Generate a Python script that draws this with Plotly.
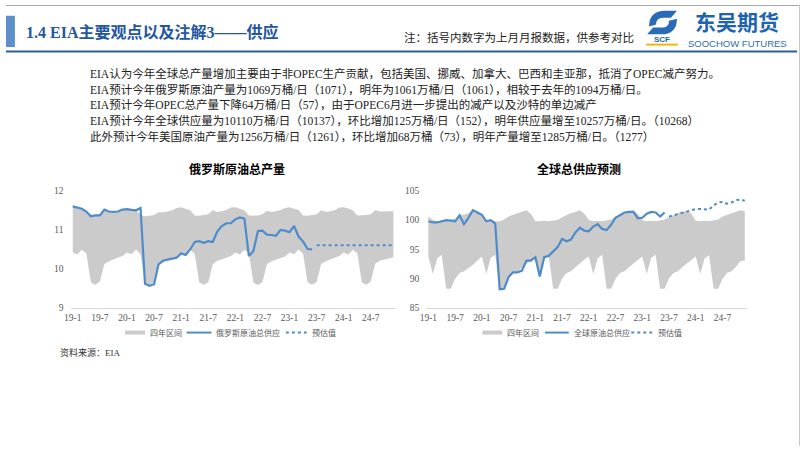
import plotly.graph_objects as go

W, H = 802, 451

# ---------------- data ----------------
tick_vals = [0, 6, 12, 18, 24, 30, 36, 42, 48, 54, 60, 66]
tick_text = ["19-1", "19-7", "20-1", "20-7", "21-1", "21-7", "22-1", "22-7", "23-1", "23-7", "24-1", "24-7"]

months_all = list(range(72))          # 2019-01 .. 2024-12
months_actual = list(range(54))       # 2019-01 .. 2023-06
months_fcst = list(range(54, 72))     # 2023-07 .. 2024-12

# Russia crude production (mb/d)
ru_low = [10.42, 10.37, 10.49, 10.40, 9.66, 9.60, 9.68, 10.13, 10.20, 10.24, 10.28, 10.33,
          10.42, 10.38, 10.50, 10.38, 9.65, 9.60, 9.67, 10.13, 10.20, 10.25, 10.28, 10.32,
          10.42, 10.38, 10.49, 10.39, 9.66, 9.60, 9.66, 10.12, 10.21, 10.25, 10.29, 10.33,
          10.42, 10.37, 10.49, 10.40, 9.65, 9.59, 9.67, 10.13, 10.20, 10.24, 10.28, 10.32,
          10.42, 10.38, 10.50, 10.39, 9.66, 9.60, 9.67, 10.13, 10.20, 10.25, 10.28, 10.33,
          10.42, 10.37, 10.49, 10.40, 9.66, 9.60, 9.68, 10.14, 10.21, 10.24, 10.28, 10.30]
ru_high = [11.60, 11.57, 11.54, 11.47, 11.36, 11.38, 11.38, 11.52, 11.47, 11.46, 11.48, 11.53,
           11.55, 11.52, 11.50, 11.38, 11.35, 11.36, 11.38, 11.45, 11.45, 11.47, 11.50, 11.56,
           11.58, 11.54, 11.50, 11.37, 11.36, 11.38, 11.40, 11.50, 11.46, 11.48, 11.51, 11.57,
           11.58, 11.54, 11.50, 11.37, 11.36, 11.37, 11.40, 11.49, 11.46, 11.48, 11.51, 11.56,
           11.58, 11.54, 11.51, 11.37, 11.36, 11.38, 11.40, 11.50, 11.46, 11.48, 11.50, 11.57,
           11.58, 11.55, 11.50, 11.37, 11.37, 11.38, 11.40, 11.51, 11.47, 11.47, 11.48, 11.48]
ru_actual = [11.60, 11.57, 11.54, 11.47, 11.35, 11.37, 11.37, 11.52, 11.47, 11.46, 11.47, 11.52,
             11.53, 11.51, 11.50, 11.56, 9.62, 9.57, 9.61, 10.12, 10.21, 10.24, 10.26, 10.29,
             10.40, 10.36, 10.50, 10.69, 10.71, 10.67, 10.71, 10.69, 10.96, 11.10, 11.17, 11.17,
             11.27, 11.32, 11.29, 10.33, 10.46, 10.97, 10.98, 10.88, 10.87, 10.85, 11.00, 10.98,
             10.94, 11.10, 10.83, 10.70, 10.51, 10.50]
ru_fcst = [10.61, 10.61, 10.61, 10.61, 10.61, 10.61, 10.61, 10.61, 10.61,
           10.61, 10.61, 10.61, 10.61, 10.61, 10.61, 10.61, 10.61, 10.61]

# Global supply (mb/d)
gl_low = [93.8, 90.8, 93.5, 94.1, 88.3, 88.3, 90.0, 91.0, 91.3, 91.8, 92.4, 93.1,
          93.8, 90.8, 93.6, 94.1, 88.3, 88.3, 90.1, 91.0, 91.3, 91.9, 92.6, 93.2,
          93.8, 90.7, 93.6, 94.0, 88.3, 88.3, 90.0, 91.0, 91.3, 92.0, 92.6, 93.3,
          93.8, 90.8, 93.5, 94.1, 88.3, 88.3, 90.0, 91.0, 91.3, 92.0, 92.6, 93.2,
          93.8, 90.8, 93.6, 94.1, 88.3, 88.3, 90.1, 91.0, 91.3, 92.0, 92.6, 93.3,
          93.8, 90.8, 93.5, 94.0, 88.3, 88.3, 90.0, 91.0, 91.3, 92.0, 93.0, 93.1]
gl_high = [100.6, 100.0, 99.8, 99.9, 100.0, 100.1, 100.2, 100.9, 100.9, 101.2, 101.7, 101.3,
           100.9, 100.0, 100.0, 99.8, 99.8, 100.1, 100.6, 100.9, 101.2, 101.4, 101.7, 101.1,
           99.8, 99.8, 99.9, 99.8, 99.9, 100.0, 100.5, 100.9, 101.2, 101.4, 101.7, 101.1,
           100.0, 99.8, 99.9, 99.8, 99.9, 100.1, 100.6, 100.9, 101.2, 101.4, 101.7, 101.1,
           100.0, 99.8, 99.9, 99.8, 99.9, 100.1, 100.5, 100.9, 101.2, 101.4, 101.6, 101.1,
           99.9, 99.8, 99.9, 99.8, 99.9, 100.1, 100.6, 100.9, 101.2, 101.4, 101.7, 101.5]
gl_actual = [99.8, 99.6, 99.6, 99.8, 100.0, 99.9, 99.8, 100.8, 99.3, 100.4, 101.7, 101.3,
             100.9, 99.8, 100.0, 99.4, 88.2, 88.3, 90.3, 91.1, 91.1, 91.4, 93.1, 93.1,
             93.7, 90.4, 93.7, 93.9, 94.7, 95.4, 96.8, 96.4, 96.7, 97.9, 98.7, 98.2,
             98.1, 98.9, 99.3, 98.5, 98.3, 99.2, 100.4, 100.9, 101.3, 101.4, 101.4, 100.3,
             100.4, 101.1, 101.4, 101.3, 100.6, 101.3]
gl_fcst = [100.6, 100.8, 101.0, 101.3, 101.5, 101.6, 101.9, 101.9, 101.9,
           101.8, 102.5, 103.0, 103.1, 102.8, 103.0, 103.4, 103.5, 103.3]

legend_left = ["四年区间", "俄罗斯原油总供应", "预估值"]
legend_right = ["四年区间", "全球原油总供应", "预估值"]

texts = [
    "EIA认为今年全球总产量增加主要由于非OPEC生产贡献，包括美国、挪威、加拿大、巴西和圭亚那，抵消了OPEC减产努力。",
    "EIA预计今年俄罗斯原油产量为1069万桶/日（1071），明年为1061万桶/日（1061），相较于去年的1094万桶/日。",
    "EIA预计今年OPEC总产量下降64万桶/日（57），由于OPEC6月进一步提出的减产以及沙特的单边减产",
    "EIA预计今年全球供应量为10110万桶/日（10137），环比增加125万桶/日（152），明年供应量增至10257万桶/日。（10268）",
    "此外预计今年美国原油产量为1256万桶/日（1261），环比增加68万桶（73），明年产量增至1285万桶/日。（1277）",
]

# ---------------- styling ----------------
BLUE = "#4F8BC9"
GRAY = "#CBCBCB"
SERIF = "Liberation Serif, Noto Sans CJK SC"
SANS = "Noto Sans CJK SC, Liberation Sans"


def px(x):
    return x / W


def py(y):
    return 1 - y / H


fig = go.Figure()

# left chart
fig.add_trace(go.Scatter(x=months_all, y=ru_low, mode="lines", line=dict(width=0, color=GRAY),
                         showlegend=False, hoverinfo="skip", xaxis="x", yaxis="y"))
fig.add_trace(go.Scatter(x=months_all, y=ru_high, mode="lines", line=dict(width=0, color=GRAY),
                         fill="tonexty", fillcolor=GRAY, name=legend_left[0], showlegend=False,
                         xaxis="x", yaxis="y"))
fig.add_trace(go.Scatter(x=months_actual, y=ru_actual, mode="lines", line=dict(color=BLUE, width=2.2),
                         name=legend_left[1], showlegend=False, xaxis="x", yaxis="y"))
fig.add_trace(go.Scatter(x=months_fcst, y=ru_fcst, mode="lines", line=dict(color=BLUE, width=2, dash="dot"),
                         name=legend_left[2], showlegend=False, xaxis="x", yaxis="y"))

# right chart
fig.add_trace(go.Scatter(x=months_all, y=gl_low, mode="lines", line=dict(width=0, color=GRAY),
                         showlegend=False, hoverinfo="skip", xaxis="x2", yaxis="y2"))
fig.add_trace(go.Scatter(x=months_all, y=gl_high, mode="lines", line=dict(width=0, color=GRAY),
                         fill="tonexty", fillcolor=GRAY, name=legend_right[0], showlegend=False,
                         xaxis="x2", yaxis="y2"))
fig.add_trace(go.Scatter(x=months_actual, y=gl_actual, mode="lines", line=dict(color=BLUE, width=2.2),
                         name=legend_right[1], showlegend=False, xaxis="x2", yaxis="y2"))
fig.add_trace(go.Scatter(x=months_fcst, y=gl_fcst, mode="lines", line=dict(color=BLUE, width=2, dash="dot"),
                         name=legend_right[2], showlegend=False, xaxis="x2", yaxis="y2"))

tickfont = dict(family=SERIF, size=9.5, color="#595959")
xcommon = dict(range=[-0.5, 71.5], tickmode="array", tickvals=tick_vals, ticktext=tick_text,
               showline=True, linecolor="#D9D9D9", linewidth=1, showgrid=False, zeroline=False,
               ticks="", tickfont=tickfont, fixedrange=True)
ycommon = dict(showgrid=False, zeroline=False, showline=False, ticks="", tickfont=tickfont,
               ticklabelstandoff=6, fixedrange=True)

annotations = []
shapes = []

# title
annotations.append(dict(x=px(18), y=py(28), xref="paper", yref="paper", xanchor="left", yanchor="middle",
                        text="<b>1.4 EIA主要观点以及注解3——供应</b>", showarrow=False,
                        font=dict(family=SERIF, size=16, color="#2556A0")))
annotations.append(dict(x=px(399), y=py(33), xref="paper", yref="paper", xanchor="left", yanchor="middle",
                        text="注：括号内数字为上月月报数据，供参考对比", showarrow=False,
                        font=dict(family=SANS, size=11.5, color="#222222")))
# logo text
annotations.append(dict(x=px(737), y=py(16.5), xref="paper", yref="paper", xanchor="center", yanchor="middle",
                        text="<b>东吴期货</b>", showarrow=False,
                        font=dict(family=SANS, size=21, color="#1E63B0")))
annotations.append(dict(x=px(737), y=py(39), xref="paper", yref="paper", xanchor="center", yanchor="middle",
                        text="SOOCHOW FUTURES", showarrow=False,
                        font=dict(family="Liberation Sans, Arial", size=9.5, color="#2B6CB5")))
annotations.append(dict(x=px(661), y=py(35), xref="paper", yref="paper", xanchor="center", yanchor="middle",
                        text="<b>SCF</b>", showarrow=False,
                        font=dict(family="Liberation Sans, Arial", size=8, color="#1E63B0")))
# body text
for i, t in enumerate(texts):
    annotations.append(dict(x=px(83), y=py(70 + i * 16), xref="paper", yref="paper", xanchor="left",
                            yanchor="middle", text=t, showarrow=False,
                            font=dict(family=SERIF, size=11.5, color="#222222")))
# chart titles
annotations.append(dict(x=px(233), y=py(167), xref="paper", yref="paper", xanchor="center", yanchor="middle",
                        text="<b>俄罗斯原油总产量</b>", showarrow=False,
                        font=dict(family=SANS, size=12, color="#000000")))
annotations.append(dict(x=px(577), y=py(167), xref="paper", yref="paper", xanchor="center", yanchor="middle",
                        text="<b>全球总供应预测</b>", showarrow=False,
                        font=dict(family=SANS, size=12, color="#000000")))
# source
annotations.append(dict(x=px(52), y=py(355), xref="paper", yref="paper", xanchor="left", yanchor="middle",
                        text="资料来源：EIA", showarrow=False,
                        font=dict(family=SERIF, size=9, color="#333333")))

# legends (compact, Excel-like)
legend_font = dict(family=SANS, size=8, color="#595959")
LEG_Y = 335
leg_styles = [dict(color=GRAY, width=4), dict(color=BLUE, width=2), dict(color=BLUE, width=2, dash="dot")]
leg_pos_left = [(120, 140, 143), (182, 207, 210), (282, 303, 306)]
leg_pos_right = [(480, 500, 503), (543, 567, 570), (630, 651, 655)]
for names, positions in ((legend_left, leg_pos_left), (legend_right, leg_pos_right)):
    for name, (x0, x1, xt), style in zip(names, positions, leg_styles):
        shapes.append(dict(type="line", xref="paper", yref="paper", x0=px(x0), x1=px(x1),
                           y0=py(LEG_Y), y1=py(LEG_Y), line=style))
        annotations.append(dict(x=px(xt), y=py(LEG_Y), xref="paper", yref="paper", xanchor="left",
                                yanchor="middle", text=name, showarrow=False, font=legend_font))

shapes += [
    # slide frame
    dict(type="line", xref="paper", yref="paper", x0=0, x1=px(800), y0=py(0.5), y1=py(0.5),
         line=dict(color="#A8A8A8", width=1)),
    dict(type="line", xref="paper", yref="paper", x0=px(799.5), x1=px(799.5), y0=0, y1=1,
         line=dict(color="#C8C8C8", width=1)),
    # title accent bar
    dict(type="rect", xref="paper", yref="paper", x0=0, x1=px(9), y0=py(43), y1=py(11),
         fillcolor="#5E8FCB", line=dict(width=0)),
    # title underline
    dict(type="line", xref="paper", yref="paper", x0=0, x1=px(797), y0=py(47.5), y1=py(47.5),
         line=dict(color="#2D5E9E", width=2)),
    # logo icon
    dict(type="path", xref="paper", yref="paper",
         path=f"M {px(648)},{py(22)} Q {px(648)},{py(6)} {px(664)},{py(6)} L {px(676)},{py(6)} "
              f"L {px(670)},{py(13)} L {px(662)},{py(13)} Q {px(655)},{py(13)} {px(655)},{py(20)} Z",
         fillcolor="#2A6BB8", line=dict(width=0)),
    dict(type="path", xref="paper", yref="paper",
         path=f"M {px(676)},{py(14)} Q {px(676)},{py(30)} {px(660)},{py(30)} L {px(646)},{py(30)} "
              f"L {px(652)},{py(23)} L {px(661)},{py(23)} Q {px(668)},{py(23)} {px(668)},{py(16)} Z",
         fillcolor="#2A6BB8", line=dict(width=0)),
    dict(type="line", xref="paper", yref="paper", x0=px(645), x1=px(677), y0=py(40.5), y1=py(40.5),
         line=dict(color="#F2B705", width=2)),
]

fig.update_layout(
    width=W, height=H,
    margin=dict(l=0, r=0, t=0, b=0),
    paper_bgcolor="white", plot_bgcolor="white",
    xaxis=dict(domain=[px(65.0), px(392.6)], anchor="y", **xcommon),
    yaxis=dict(domain=[py(310), py(190)], anchor="x", range=[9, 12], dtick=1, **ycommon),
    xaxis2=dict(domain=[px(423.3), px(746.6)], anchor="y2", **xcommon),
    yaxis2=dict(domain=[py(310), py(190)], anchor="x2", range=[85, 105], dtick=5, **ycommon),
    annotations=annotations,
    shapes=shapes,
    showlegend=False,
)

fig.write_html("out.html")
